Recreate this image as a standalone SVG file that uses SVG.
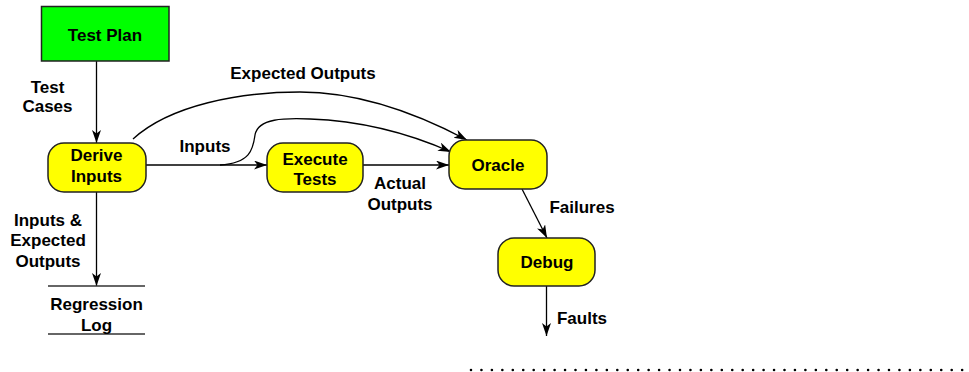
<svg xmlns="http://www.w3.org/2000/svg" width="969" height="372" viewBox="0 0 969 372">
<defs>
<style>
.lbl{font-family:"Liberation Sans",Arial,sans-serif;font-weight:bold;font-size:17px;fill:#000;text-anchor:middle}
.box{fill:#ffff00;stroke:#222;stroke-width:1.5}
.plan{fill:#00ff00;stroke:#222;stroke-width:1.5}
.edge{fill:none;stroke:#000;stroke-width:1.3}
.arr{marker-end:url(#ah)}
</style>
<marker id="ah" markerUnits="userSpaceOnUse" markerWidth="14" markerHeight="10" refX="13" refY="4.5" orient="auto">
<path d="M0,0 L13,4.5 L0,9 L3.5,4.5 Z" fill="#000"/>
</marker>
</defs>
<rect width="969" height="372" fill="#fff"/>
<g id="connectors">
<line class="edge arr" x1="96.5" y1="61" x2="96.5" y2="143"/>
<line class="edge arr" x1="96.5" y1="192" x2="96.5" y2="286"/>
<line class="edge arr" x1="146" y1="165" x2="267" y2="165"/>
<line class="edge arr" x1="363" y1="165" x2="449" y2="165"/>
<path class="edge arr" d="M220,165 C250,163 253,150 255,135 C258,118 285,118 310,119 C365,121 415,136 451,152"/>
<path class="edge arr" d="M133,139 C170,105 240,92 300,92 C360,92 420,115 467,140"/>
<line class="edge arr" x1="522" y1="189" x2="547" y2="238"/>
<line class="edge arr" x1="546.5" y1="286" x2="546.5" y2="336"/>
</g>
<g id="test-plan">
<rect class="plan" x="41.5" y="6.5" width="127.5" height="54.5"/>
<text class="lbl" x="105" y="41">Test Plan</text>
</g>
<g id="derive-inputs">
<rect class="box" x="48" y="143" width="98" height="49" rx="16"/>
<text class="lbl" x="96.5" y="161">Derive</text>
<text class="lbl" x="96.5" y="182">Inputs</text>
</g>
<g id="execute-tests">
<rect class="box" x="267" y="143" width="96" height="49" rx="16"/>
<text class="lbl" x="315" y="165">Execute</text>
<text class="lbl" x="315" y="185">Tests</text>
</g>
<g id="oracle">
<rect class="box" x="449" y="140" width="98" height="49" rx="16"/>
<text class="lbl" x="498" y="170.5">Oracle</text>
</g>
<g id="debug">
<rect class="box" x="498" y="238" width="97" height="48" rx="16"/>
<text class="lbl" x="547" y="268">Debug</text>
</g>
<g id="regression-log">
<line x1="48" y1="286" x2="145" y2="286" stroke="#333" stroke-width="1.3"/>
<line x1="48" y1="334" x2="145" y2="334" stroke="#333" stroke-width="1.3"/>
<text class="lbl" x="96.5" y="310">Regression</text>
<text class="lbl" x="96.5" y="331">Log</text>
</g>
<g id="labels">
<text class="lbl" x="47.5" y="93">Test</text>
<text class="lbl" x="47.5" y="112">Cases</text>
<text class="lbl" x="48" y="226">Inputs &amp;</text>
<text class="lbl" x="48" y="246">Expected</text>
<text class="lbl" x="48" y="267">Outputs</text>
<text class="lbl" x="205" y="152">Inputs</text>
<text class="lbl" x="303" y="79">Expected Outputs</text>
<text class="lbl" x="400" y="189">Actual</text>
<text class="lbl" x="400" y="210">Outputs</text>
<text class="lbl" x="582" y="213">Failures</text>
<text class="lbl" x="582" y="324">Faults</text>
</g>
<line x1="471" y1="370" x2="964" y2="370" stroke="#000" stroke-width="2.6" stroke-linecap="round" stroke-dasharray="0 10.45"/>
</svg>
